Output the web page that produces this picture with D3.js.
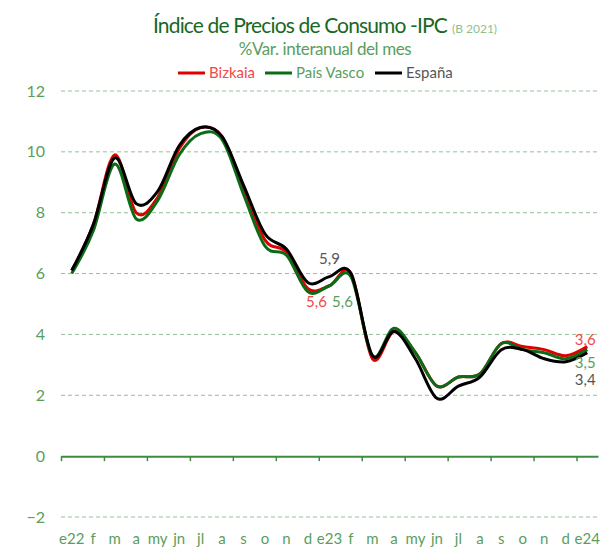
<!DOCTYPE html>
<html>
<head>
<meta charset="utf-8">
<script src="https://cdn.jsdelivr.net/npm/d3@7"></script>
<style>
  body { margin: 0; background: #fff; }
  svg { font-family: Lato, "Open Sans", sans-serif; }
</style>
</head>
<body>
<svg id="chart" width="604" height="548"></svg>
<script>
// month labels, e22 .. e24
const months = ["e22","f","m","a","my","jn","jl","a","s","o","n","d",
                "e23","f","m","a","my","jn","jl","a","s","o","n","d","e24"];

const bizkaia   = [6.1,7.6,9.9,8.0,8.5,10.1,10.8,10.5,8.8,7.1,6.7,5.5,
                   5.6,6.0,3.2,4.1,3.4,2.3,2.6,2.7,3.7,3.6,3.5,3.3,3.6];
const paisVasco = [6.0,7.4,9.6,7.8,8.4,9.9,10.6,10.4,8.6,6.9,6.6,5.4,
                   5.6,5.9,3.3,4.2,3.4,2.3,2.6,2.7,3.7,3.5,3.4,3.2,3.5];
const espana    = [6.1,7.6,9.8,8.3,8.7,10.2,10.8,10.5,8.9,7.3,6.8,5.7,
                   5.9,6.0,3.3,4.1,3.2,1.9,2.3,2.6,3.5,3.5,3.2,3.1,3.4];

const yTicks = [-2, 0, 2, 4, 6, 8, 10, 12];

const series = [
  { name: "Bizkaia",    values: bizkaia,   color: "#e00000", text: "#f04a4a" },
  { name: "País Vasco", values: paisVasco, color: "#0b6b16", text: "#5a9e5e" },
  { name: "España",     values: espana,    color: "#000000", text: "#555555" }
];

const svg = d3.select("#chart");
const plotLeft = 61, plotRight = 598, plotTop = 91, plotBottom = 517;

const x = d3.scaleBand().domain(d3.range(months.length)).range([plotLeft, plotRight]);
const xEdge = d3.scaleLinear().domain([0, months.length]).range([plotLeft, plotRight]);
const y = d3.scaleLinear().domain([-2, 12]).range([plotBottom, plotTop]);

const fmt = v => d3.format(".1f")(v).replace(".", ",");

// gridlines
svg.append("g")
  .selectAll("line")
  .data(yTicks.filter(d => d !== 0))
  .join("line")
  .attr("x1", plotLeft).attr("x2", plotRight - 1)
  .attr("y1", d => y(d)).attr("y2", d => y(d))
  .attr("stroke", "#93c197")
  .attr("stroke-width", 1)
  .attr("stroke-dasharray", "4,3");

// y labels
svg.append("g")
  .attr("transform", "translate(" + (plotLeft - 16) + ",0)")
  .call(d3.axisLeft(y).tickValues(yTicks).tickSize(0).tickPadding(0))
  .call(g => g.select(".domain").remove())
  .selectAll("text")
  .attr("font-family", "Lato")
  .attr("font-size", 16)
  .attr("fill", "#5a9e5e");

// zero line with ticks every two months
svg.append("g")
  .attr("transform", "translate(0," + y(0) + ")")
  .call(d3.axisBottom(xEdge).tickValues(d3.range(0, months.length, 2)).tickSize(5).tickSizeOuter(0).tickFormat(""))
  .call(g => g.select(".domain").attr("stroke", "#3d8c44").attr("stroke-width", 2))
  .call(g => g.selectAll(".tick line").attr("stroke", "#3d8c44").attr("stroke-width", 1.5));

// month labels at the bottom
svg.append("g")
  .attr("transform", "translate(0,530)")
  .call(d3.axisBottom(x).tickSize(0).tickFormat(i => months[i]))
  .call(g => g.select(".domain").remove())
  .selectAll("text")
  .attr("font-family", "Lato")
  .attr("font-size", 15)
  .attr("fill", "#5a9e5e");

// lines
const line = d3.line()
  .x((d, i) => x(i) + x.bandwidth() / 2)
  .y(d => y(d))
  .curve(d3.curveCatmullRom.alpha(0));

svg.append("g")
  .selectAll("path")
  .data(series)
  .join("path")
  .attr("d", d => line(d.values))
  .attr("fill", "none")
  .attr("stroke", d => d.color)
  .attr("stroke-width", 3)
  .attr("stroke-linejoin", "round");

// data labels
const cx = i => x(i) + x.bandwidth() / 2;
const labels = [
  { s: 2, i: 12, dx: 0,   dy: -13 },
  { s: 0, i: 12, dx: -13, dy: 21 },
  { s: 1, i: 12, dx: 13,  dy: 21 },
  { s: 0, i: 24, dx: -2,  dy: -2 },
  { s: 1, i: 24, dx: -2,  dy: 18 },
  { s: 2, i: 24, dx: -2,  dy: 32 }
];
svg.append("g")
  .selectAll("text")
  .data(labels)
  .join("text")
  .attr("x", d => cx(d.i) + d.dx)
  .attr("y", d => y(series[d.s].values[d.i]) + d.dy)
  .attr("text-anchor", "middle")
  .attr("font-size", 15)
  .attr("fill", d => series[d.s].text)
  .text(d => fmt(series[d.s].values[d.i]));

// title, squeezed to the width it has in the original
const title = svg.append("text")
  .attr("x", 153).attr("y", 33)
  .attr("fill", "#17691f");
const main = title.append("tspan")
  .attr("font-size", 21)
  .text("Índice de Precios de Consumo -IPC");
const w = main.node().getComputedTextLength();
const n = main.text().length;
main.attr("letter-spacing", (294 - w) / n);
title.append("tspan")
  .attr("dx", 5)
  .attr("font-size", 12)
  .attr("fill", "#8cbf8f")
  .text("(B 2021)");

svg.append("text")
  .attr("x", 325).attr("y", 55)
  .attr("text-anchor", "middle")
  .attr("font-size", 17)
  .attr("letter-spacing", -0.4)
  .attr("fill", "#5a9e5e")
  .text("%Var. interanual del mes");

// legend
const legendX = [178, 265, 375];
const leg = svg.append("g")
  .selectAll("g")
  .data(series)
  .join("g")
  .attr("transform", (d, i) => "translate(" + legendX[i] + ",73)");
leg.append("line")
  .attr("x1", 0).attr("x2", 27)
  .attr("stroke", d => d.color)
  .attr("stroke-width", 3);
leg.append("text")
  .attr("x", 31).attr("y", 5)
  .attr("font-size", 15)
  .attr("fill", d => d.text)
  .text(d => d.name);
</script>
</body>
</html>
